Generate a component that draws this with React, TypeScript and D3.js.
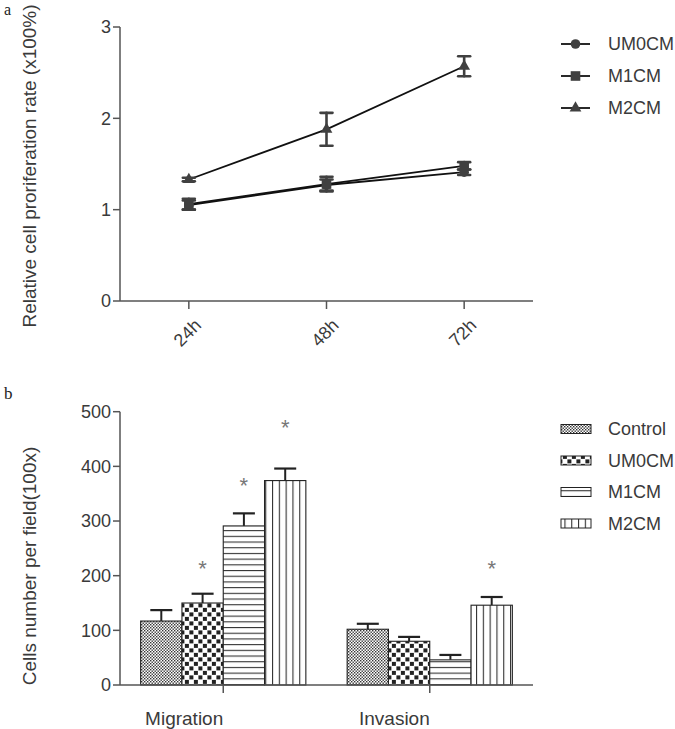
import React from "react";
import * as d3 from "d3";

// ---------- Panel a data ----------
const timePoints = ["24h", "48h", "72h"];
const lineSeries = ["UM0CM", "M1CM", "M2CM"];
const um0Mean = [1.05, 1.27, 1.41];
const um0Err = [0.05, 0.06, 0.03];
const m1Mean = [1.06, 1.28, 1.48];
const m1Err = [0.06, 0.08, 0.04];
const m2Mean = [1.33, 1.88, 2.57];
const m2Err = [0.02, 0.18, 0.11];
const yTicksA = [0, 1, 2, 3];

// ---------- Panel b data ----------
const assays = ["Migration", "Invasion"];
const groups = ["Control", "UM0CM", "M1CM", "M2CM"];
const migrationMean = [117, 150, 291, 374];
const migrationErr = [20, 17, 23, 22];
const invasionMean = [102, 80, 46, 146];
const invasionErr = [10, 8, 9, 15];
const migrationStar = [null, 225, 377, 483];
const invasionStar = [null, null, null, 225];
const yTicksB = [0, 100, 200, 300, 400, 500];

const FONT = "'Liberation Sans', Arial, sans-serif";
const TXT = "#3a3a3a";
const AX = "#555";
const MARK = "#404040";

export default function App() {
  // ---- scales a
  const xA = d3.scalePoint<string>().domain(timePoints).range([120, 533]).padding(0.5);
  const yA = d3.scaleLinear().domain([0, 3]).range([301, 27]);
  const seriesData = [
    { name: lineSeries[0], mean: um0Mean, err: um0Err, shape: "circle" },
    { name: lineSeries[1], mean: m1Mean, err: m1Err, shape: "square" },
    { name: lineSeries[2], mean: m2Mean, err: m2Err, shape: "triangle" },
  ];
  const line = d3
    .line<number>()
    .x((_, i) => xA(timePoints[i]) as number)
    .y((d) => yA(d));

  const marker = (shape: string, x: number, y: number, key: string) => {
    if (shape === "circle") return <circle key={key} cx={x} cy={y} r={4.8} fill={MARK} />;
    if (shape === "square") return <rect key={key} x={x - 4.8} y={y - 4.8} width={9.6} height={9.6} fill={MARK} />;
    const sym = d3.symbol().type(d3.symbolTriangle).size(60)();
    return <path key={key} d={sym as string} transform={`translate(${x},${y})`} fill={MARK} />;
  };

  // ---- scales b
  const xB = d3.scaleBand<string>().domain(assays).range([120, 533]).paddingInner(0.2).paddingOuter(0.1);
  const xInner = d3.scaleBand<string>().domain(groups).range([0, xB.bandwidth()]);
  const yB = d3.scaleLinear().domain([0, 500]).range([685, 411.7]);
  const barData = [
    { assay: assays[0], mean: migrationMean, err: migrationErr, star: migrationStar },
    { assay: assays[1], mean: invasionMean, err: invasionErr, star: invasionStar },
  ];
  const patterns = ["pCtrl", "pUM0", "pM1", "pM2"];

  return (
    <svg width={675} height={729} style={{ display: "block", position: "absolute", left: 0, top: 0 }}>
      <defs>
        <pattern id="pCtrl" width={3} height={3} patternUnits="userSpaceOnUse">
          <rect width={3} height={3} fill="#fff" />
          <rect x={0} y={0} width={1.4} height={1.4} fill="#333" />
          <rect x={1.5} y={1.5} width={1.4} height={1.4} fill="#333" />
        </pattern>
        <pattern id="pUM0" width={9} height={9} patternUnits="userSpaceOnUse">
          <rect width={9} height={9} fill="#fff" />
          <rect x={0.4} y={0.4} width={4} height={4} fill="#222" />
          <rect x={4.9} y={4.9} width={4} height={4} fill="#222" />
        </pattern>
        <pattern id="pM1" width={6} height={5.7} patternUnits="userSpaceOnUse">
          <rect width={6} height={5.7} fill="#fff" />
          <rect x={0} y={0} width={6} height={1.1} fill="#333" />
        </pattern>
        <pattern id="pM2" width={6.8} height={6} patternUnits="userSpaceOnUse">
          <rect width={6.8} height={6} fill="#fff" />
          <rect x={0} y={0} width={1.1} height={6} fill="#333" />
        </pattern>
      </defs>

      {/* ================= Panel a ================= */}
      <text x={4} y={15} fontFamily="'Liberation Serif', serif" fontSize={16} fill="#222">a</text>
      {/* y axis */}
      <line x1={120} x2={120} y1={yA(3)} y2={yA(0)} stroke={AX} strokeWidth={1.5} />
      {yTicksA.map((t) => (
        <g key={t}>
          <line x1={113} x2={120} y1={yA(t)} y2={yA(t)} stroke={AX} strokeWidth={1.5} />
          <text x={111} y={yA(t)} dy="0.35em" textAnchor="end" fontFamily={FONT} fontSize={18} fill={TXT}>{t}</text>
        </g>
      ))}
      <text
        transform={`translate(36,166) rotate(-90)`}
        textAnchor="middle"
        fontFamily={FONT}
        fontSize={19}
        fill={TXT}
      >
        Relative cell proriferation rate (x100%)
      </text>
      {/* x axis */}
      <line x1={120} x2={533} y1={yA(0)} y2={yA(0)} stroke={AX} strokeWidth={1.5} />
      {timePoints.map((t) => (
        <g key={t}>
          <line x1={xA(t)} x2={xA(t)} y1={yA(0)} y2={yA(0) + 8} stroke={AX} strokeWidth={1.5} />
          <text
            transform={`translate(${(xA(t) as number) + 9},${yA(0) + 21}) rotate(-45)`}
            textAnchor="end"
            dy="0.35em"
            fontFamily={FONT}
            fontSize={18}
            fill={TXT}
          >
            {t}
          </text>
        </g>
      ))}
      {/* lines */}
      {seriesData.map((s) => (
        <path key={s.name} d={line(s.mean) as string} fill="none" stroke="#111" strokeWidth={1.8} />
      ))}
      {/* error bars */}
      {seriesData.map((s) =>
        s.mean.map((m, i) => {
          const x = xA(timePoints[i]) as number;
          const y1 = yA(m + s.err[i]);
          const y2 = yA(m - s.err[i]);
          return (
            <g key={s.name + i} stroke={MARK} strokeWidth={2.6} strokeLinecap="round">
              <line x1={x} x2={x} y1={y1} y2={y2} />
              <line x1={x - 6} x2={x + 6} y1={y1} y2={y1} />
              <line x1={x - 6} x2={x + 6} y1={y2} y2={y2} />
            </g>
          );
        })
      )}
      {seriesData.map((s) => s.mean.map((m, i) => marker(s.shape, xA(timePoints[i]) as number, yA(m), s.name + "m" + i)))}
      {/* legend a */}
      {seriesData.map((s, i) => {
        const y = 44 + i * 32;
        return (
          <g key={s.name}>
            <line x1={561} x2={590} y1={y} y2={y} stroke="#111" strokeWidth={1.8} />
            {marker(s.shape, 575.5, y, "lg" + i)}
            <text x={608} y={y} dy="0.36em" fontFamily={FONT} fontSize={18} fill={TXT}>{s.name}</text>
          </g>
        );
      })}

      {/* ================= Panel b ================= */}
      <text x={4} y={399} fontFamily="'Liberation Serif', serif" fontSize={17} fill="#222">b</text>
      <line x1={120} x2={120} y1={yB(500)} y2={yB(0)} stroke={AX} strokeWidth={1.5} />
      {yTicksB.map((t) => (
        <g key={t}>
          <line x1={113} x2={120} y1={yB(t)} y2={yB(t)} stroke={AX} strokeWidth={1.5} />
          <text x={111} y={yB(t)} dy="0.35em" textAnchor="end" fontFamily={FONT} fontSize={18} fill={TXT}>{t}</text>
        </g>
      ))}
      <text
        transform={`translate(36,566) rotate(-90)`}
        textAnchor="middle"
        fontFamily={FONT}
        fontSize={19}
        fill={TXT}
      >
        Cells number per field(100x)
      </text>
      {/* bars */}
      {barData.map((b) => {
        const x0 = xB(b.assay) as number;
        return (
          <g key={b.assay}>
            {b.mean.map((m, i) => {
              const x = x0 + (xInner(groups[i]) as number);
              const w = xInner.bandwidth();
              const cx = x + w / 2;
              const top = yB(m + b.err[i]);
              return (
                <g key={i}>
                  <line x1={cx} x2={cx} y1={yB(m)} y2={top} stroke="#222" strokeWidth={2} />
                  <line x1={cx - 11} x2={cx + 11} y1={top} y2={top} stroke="#222" strokeWidth={2.2} />
                  <rect x={x} y={yB(m)} width={w} height={yB(0) - yB(m)} fill={`url(#${patterns[i]})`} stroke="#222" strokeWidth={1.1} />
                  {b.star[i] != null && (
                    <text x={cx} y={yB(b.star[i] as number)} dy="0.62em" textAnchor="middle" fontFamily={FONT} fontSize={22} fill="#777">*</text>
                  )}
                </g>
              );
            })}
          </g>
        );
      })}
      {/* x axis b */}
      <line x1={120} x2={533} y1={yB(0)} y2={yB(0)} stroke={AX} strokeWidth={1.5} />
      {assays.map((a) => {
        const cx = (xB(a) as number) + xB.bandwidth() / 2;
        return (
          <g key={a}>
            <line x1={cx} x2={cx} y1={yB(0)} y2={yB(0) + 8} stroke={AX} strokeWidth={1.5} />
            <text x={cx} y={718} dy="0.35em" textAnchor="end" fontFamily={FONT} fontSize={19} fill={TXT}>{a}</text>
          </g>
        );
      })}
      {/* legend b */}
      {groups.map((g, i) => {
        const y = 429 + i * 31.5;
        return (
          <g key={g}>
            <rect x={561} y={y - 4.5} width={30} height={9} fill={`url(#${patterns[i]})`} stroke="#222" strokeWidth={1} />
            <text x={608} y={y} dy="0.36em" fontFamily={FONT} fontSize={18} fill={TXT}>{g}</text>
          </g>
        );
      })}
    </svg>
  );
}
